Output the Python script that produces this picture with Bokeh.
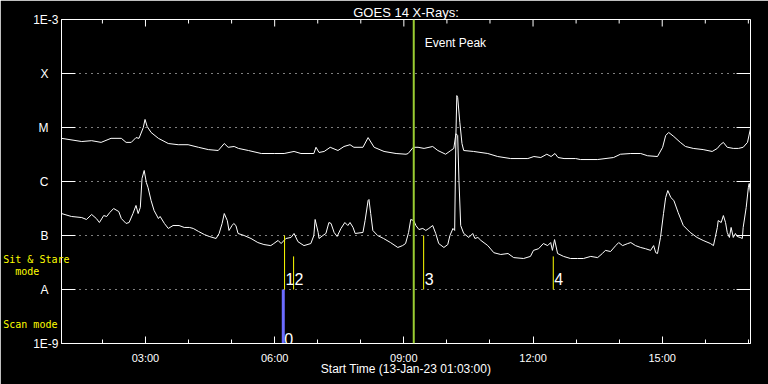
from bokeh.plotting import figure
from bokeh.models import Range1d, FixedTicker, LogAxis, Label, Span
from bokeh.embed import file_html
from bokeh.resources import INLINE

FONT = "Liberation Sans"
MONO = "DejaVu Sans Mono"

# ---- time axis (decimal hours UT, 13-Jan-2023) ----
x_start, x_end = 1.05, 17.05
major_hours = [3, 6, 9, 12, 15]
major_labels = ["03:00", "06:00", "09:00", "12:00", "15:00"]
minor_hours = [2, 3, 4, 5, 6, 7, 8, 9, 10, 11, 12, 13, 14, 15, 16, 17]

# ---- flux axis (W/m^2) ----
decades = [1e-9, 1e-8, 1e-7, 1e-6, 1e-5, 1e-4, 1e-3]
decade_labels = ["1E-9", "A", "B", "C", "M", "X", "1E-3"]
grid_levels = [1e-8, 1e-7, 1e-6, 1e-5, 1e-4]

# ---- observing-mode captions on the flux axis ----
mode_levels = [3.59e-8, 2.15e-8, 2.25e-9]
mode_labels = ["Sit & Stare", "mode", "Scan mode"]
mode_pad = [0, 5, 2]   # trailing no-break spaces

# ---- GOES 14 long channel (1-8 A) ----
long_t = [1.05, 1.52, 1.75, 1.97, 2.20, 2.44, 2.55, 2.67, 2.78, 2.85,
          2.95, 2.99, 3.04, 3.13, 3.30, 3.53, 3.76, 3.99, 4.23, 4.46,
          4.69, 4.83, 4.92, 5.06, 5.16, 5.39, 5.69, 5.99, 6.22, 6.45,
          6.61, 6.91, 6.96, 7.03, 7.15, 7.29, 7.47, 7.61, 7.75, 7.84,
          8.05, 8.17, 8.31, 8.54, 8.82, 9.05, 9.10, 9.22, 9.33, 9.47,
          9.67, 9.79, 9.97, 10.09, 10.16, 10.21, 10.23, 10.25, 10.30, 10.35,
          10.39, 10.62, 10.95, 11.18, 11.48, 11.88, 12.02, 12.18, 12.32, 12.42,
          12.51, 12.58, 12.72, 12.99, 13.10, 13.50, 13.87, 14.03, 14.27, 14.50,
          14.66, 14.89, 15.01, 15.08, 15.15, 15.27, 15.42, 15.54, 15.72, 15.95,
          16.16, 16.28, 16.35, 16.42, 16.51, 16.65, 16.77, 16.88, 16.98, 17.05]
long_f = [6.3e-6, 5.5e-6, 5.7e-6, 5.3e-6, 6.3e-6, 6.3e-6, 5.3e-6, 5.3e-6, 6.5e-6, 6.3e-6,
          1.0e-5, 1.41e-5, 1.04e-5, 8.1e-6, 6.3e-6, 5.05e-6, 4.8e-6, 4.8e-6, 4.3e-6, 3.9e-6,
          3.75e-6, 5.05e-6, 4.3e-6, 4.45e-6, 4.1e-6, 3.75e-6, 3.3e-6, 3.3e-6, 3.3e-6, 3.6e-6,
          3.3e-6, 3.3e-6, 4.3e-6, 3.45e-6, 3.6e-6, 4.3e-6, 3.75e-6, 4.45e-6, 4.8e-6, 4.3e-6,
          4.3e-6, 6.5e-6, 4.3e-6, 3.6e-6, 3.3e-6, 3.2e-6, 3.3e-6, 4.3e-6, 4.3e-6, 4.1e-6,
          4.45e-6, 3.75e-6, 3.2e-6, 3.75e-6, 4.1e-6, 7.7e-6, 3.9e-5, 3.6e-5, 1.24e-5, 5.05e-6,
          3.75e-6, 3.6e-6, 3.3e-6, 2.9e-6, 2.66e-6, 2.66e-6, 2.9e-6, 2.78e-6, 3.2e-6, 2.9e-6,
          3.3e-6, 2.78e-6, 2.66e-6, 2.66e-6, 2.55e-6, 2.55e-6, 2.78e-6, 3.2e-6, 3.3e-6, 3.3e-6,
          3.0e-6, 2.9e-6, 4.3e-6, 7.1e-6, 8.1e-6, 6.8e-6, 5.3e-6, 4.45e-6, 4.1e-6, 3.9e-6,
          3.6e-6, 4.1e-6, 4.8e-6, 5.3e-6, 4.3e-6, 4.1e-6, 4.1e-6, 4.3e-6, 5.3e-6, 9.6e-6]

# ---- GOES 14 short channel (0.5-4 A) ----
short_t = [1.05, 1.28, 1.52, 1.63, 1.75, 1.86, 1.93, 2.03, 2.10, 2.17,
           2.26, 2.38, 2.44, 2.55, 2.62, 2.71, 2.78, 2.83, 2.88, 2.92,
           2.97, 3.02, 3.06, 3.13, 3.20, 3.30, 3.34, 3.44, 3.53, 3.64,
           3.78, 3.90, 4.02, 4.11, 4.23, 4.37, 4.48, 4.64, 4.71, 4.78,
           4.83, 4.90, 4.94, 5.01, 5.05, 5.10, 5.15, 5.29, 5.45, 5.61,
           5.75, 5.91, 5.98, 6.08, 6.15, 6.26, 6.38, 6.45, 6.54, 6.68,
           6.84, 6.91, 6.94, 7.01, 7.03, 7.12, 7.19, 7.26, 7.31, 7.38,
           7.45, 7.54, 7.63, 7.70, 7.75, 7.82, 7.87, 8.05, 8.10, 8.17,
           8.19, 8.23, 8.28, 8.39, 8.53, 8.69, 8.86, 8.97, 9.04, 9.11,
           9.16, 9.23, 9.28, 9.35, 9.44, 9.51, 9.58, 9.67, 9.74, 9.81,
           9.93, 10.02, 10.07, 10.14, 10.18, 10.21, 10.25, 10.28, 10.32, 10.39,
           10.51, 10.60, 10.65, 10.72, 10.79, 10.95, 11.09, 11.25, 11.42, 11.55,
           11.78, 11.94, 12.01, 12.13, 12.24, 12.34, 12.41, 12.45, 12.50, 12.57,
           12.71, 12.87, 13.03, 13.17, 13.34, 13.50, 13.61, 13.68, 13.80, 13.92,
           13.99, 14.08, 14.20, 14.27, 14.38, 14.50, 14.61, 14.73, 14.80, 14.85,
           14.89, 14.96, 15.03, 15.08, 15.13, 15.20, 15.27, 15.37, 15.49, 15.65,
           15.81, 15.95, 16.12, 16.19, 16.23, 16.28, 16.30, 16.37, 16.42, 16.47,
           16.51, 16.56, 16.60, 16.65, 16.70, 16.74, 16.81, 16.86, 16.88, 16.95,
           17.00, 17.02, 17.05]
short_f = [2.55e-7, 2.25e-7, 2.15e-7, 1.98e-7, 2.45e-7, 2.06e-7, 1.74e-7, 2.34e-7, 2.25e-7, 2.66e-7,
           3.16e-7, 2.78e-7, 2.06e-7, 1.67e-7, 1.74e-7, 2.55e-7, 3.6e-7, 2.55e-7, 3.3e-7, 1.14e-6,
           1.6e-6, 9.6e-7, 7.7e-7, 4.45e-7, 2.9e-7, 2.06e-7, 2.25e-7, 1.67e-7, 1.35e-7, 1.53e-7,
           1.53e-7, 1.41e-7, 1.41e-7, 1.35e-7, 1.19e-7, 1.04e-7, 9.6e-8, 8.8e-8, 1.09e-7, 1.67e-7,
           2.55e-7, 1.89e-7, 1.24e-7, 1.53e-7, 1.67e-7, 1.53e-7, 1.09e-7, 1.0e-7, 8.8e-8, 7.4e-8,
           6.8e-8, 6.5e-8, 7.1e-8, 8.1e-8, 7.1e-8, 8.8e-8, 9.2e-8, 1.09e-7, 7.7e-8, 6.5e-8,
           7.1e-8, 1.0e-7, 1.98e-7, 1.14e-7, 8.8e-8, 1.0e-7, 1.09e-7, 1.74e-7, 1.67e-7, 1.14e-7,
           9.6e-8, 1.35e-7, 1.74e-7, 1.53e-7, 1.74e-7, 1.41e-7, 1.09e-7, 1.14e-7, 1.89e-7, 4.45e-7,
           4.64e-7, 2.55e-7, 1.24e-7, 1.0e-7, 8.8e-8, 7.4e-8, 6.0e-8, 6.5e-8, 7.1e-8, 1.14e-7,
           1.98e-7, 1.89e-7, 1.53e-7, 1.29e-7, 1.35e-7, 1.24e-7, 1.35e-7, 1.53e-7, 1.09e-7, 7.1e-8,
           6.0e-8, 6.8e-8, 1.0e-7, 1.35e-7, 1.24e-7, 7.7e-6, 7.1e-6, 1.04e-6, 1.53e-7, 1.09e-7,
           9.2e-8, 1.09e-7, 8.8e-8, 9.2e-8, 8.1e-8, 6.5e-8, 4.8e-8, 4.45e-8, 4.64e-8, 3.9e-8,
           3.75e-8, 4.1e-8, 5.3e-8, 5.7e-8, 7.1e-8, 6.5e-8, 7.4e-8, 5.3e-8, 8.4e-8, 4.64e-8,
           4.1e-8, 3.75e-8, 3.75e-8, 3.75e-8, 4.1e-8, 3.9e-8, 4.64e-8, 5.3e-8, 5.05e-8, 6.5e-8,
           7.4e-8, 6.5e-8, 7.1e-8, 7.4e-8, 6.5e-8, 6.0e-8, 5.7e-8, 5.3e-8, 6.5e-8, 4.8e-8,
           4.64e-8, 9.2e-8, 2.55e-7, 5.05e-7, 6.8e-7, 5.05e-7, 4.45e-7, 2.66e-7, 1.53e-7, 1.14e-7,
           9.2e-8, 8.1e-8, 7.1e-8, 6.5e-8, 9.2e-8, 1.41e-7, 1.89e-7, 1.74e-7, 2.34e-7, 1.74e-7,
           1.14e-7, 9.2e-8, 1.41e-7, 9.2e-8, 1.09e-7, 9.6e-8, 9.2e-8, 8.8e-8, 1.41e-7, 3.3e-7,
           7.7e-7, 9.2e-7, 6.0e-7]

# ---- event peak and observation markers ----
event_peak_t = 9.23
obs_ids = ["0", "1", "2", "3", "4"]
obs_t = [6.20, 6.23, 6.44, 9.46, 12.47]
obs_bottom = [1e-9, 1e-8, 1e-8, 1e-8, 1e-8]
obs_top = [1e-8, 1e-7, 4.1e-8, 1e-7, 4.1e-8]
obs_color = ["#6b6bff", "#ffff00", "#ffff00", "#ffff00", "#ffff00"]
obs_width = [3, 1, 1, 1, 1]

# ---- layout (pixels) ----
W, H = 768, 384
BL, BR, BT, BB = 60, 18, 19, 41
frame_w, frame_h = W - BL - BR, H - BT - BB
px_per_hour = frame_w / (x_end - x_start)
px_per_decade = frame_h / (len(decades) - 1)
NBSP = "\u00a0"

p = figure(width=W, height=H, output_backend="svg", toolbar_location=None,
           x_range=Range1d(x_start, x_end), y_range=Range1d(decades[0], decades[-1]),
           y_axis_type="log",
           min_border_left=BL, min_border_right=BR, min_border_top=BT, min_border_bottom=BB,
           background_fill_color="black", border_fill_color="black",
           outline_line_color="white", outline_line_width=1)

p.title.text = "GOES 14 X-Rays:"
p.title.align = "center"
p.title.text_color = "white"
p.title.text_font = FONT
p.title.text_font_size = "13px"
p.title.text_font_style = "normal"
p.title.standoff = 0
p.title.offset = 0

# bottom axis
xa = p.xaxis[0]
xa.ticker = FixedTicker(ticks=major_hours, minor_ticks=minor_hours)
xa.major_label_overrides = {h: s for h, s in zip(major_hours, major_labels)}
xa.major_tick_in = 7
xa.major_tick_out = 0
xa.minor_tick_in = 4
xa.minor_tick_out = 0
xa.major_label_text_font_size = "11px"
xa.major_label_standoff = 8
xa.axis_label = "Start Time (13-Jan-23 01:03:00)"
xa.axis_label_text_font = FONT
xa.axis_label_text_font_size = "12px"
xa.axis_label_text_font_style = "normal"
xa.axis_label_text_color = "white"
xa.axis_label_standoff = -5

# left axis
ya = p.yaxis[0]
ya.ticker = FixedTicker(ticks=decades, minor_ticks=[])
ya.major_label_overrides = {d: (s if s.startswith("1E") else s + NBSP * 3)
                            for d, s in zip(decades, decade_labels)}
ya.major_tick_in = 14
ya.major_tick_out = 0
ya.minor_tick_in = 0
ya.minor_tick_out = 0
ya.major_label_text_font_size = "12px"
ya.major_label_standoff = 3

for ax in [xa, ya]:
    ax.axis_line_color = "white"
    ax.major_tick_line_color = "white"
    ax.minor_tick_line_color = "white"
    ax.major_label_text_color = "white"
    ax.major_label_text_font = FONT

# yellow observing-mode captions, drawn as a second (tickless) flux axis
mode_axis = LogAxis(ticker=FixedTicker(ticks=mode_levels, minor_ticks=[]),
                    major_label_overrides={lv: s + NBSP * n for lv, s, n
                                           in zip(mode_levels, mode_labels, mode_pad)},
                    axis_line_color=None, major_tick_line_color=None,
                    minor_tick_line_color=None,
                    major_tick_in=0, major_tick_out=0, minor_tick_in=0, minor_tick_out=0,
                    major_label_standoff=-39,
                    major_label_text_color="#ffff00", major_label_text_font=MONO,
                    major_label_text_font_size="10px")
p.add_layout(mode_axis, "left")

p.xgrid.visible = False
p.ygrid.ticker = FixedTicker(ticks=grid_levels, minor_ticks=[])
p.ygrid.grid_line_color = "white"
p.ygrid.grid_line_dash = "1 5"
p.ygrid.grid_line_width = 1

# mirrored ticks on the top and right frame edges
top_len = [7 if h in major_hours else 4 for h in minor_hours]
p.segment(x0=minor_hours, y0=[decades[-1]] * len(minor_hours),
          x1=minor_hours, y1=[decades[-1] / 10 ** (L / px_per_decade) for L in top_len],
          line_color="white", line_width=1)
p.segment(x0=[x_end - 14 / px_per_hour] * len(decades), y0=decades,
          x1=[x_end] * len(decades), y1=decades, line_color="white", line_width=1)

# curves
p.line(long_t, long_f, line_color="white", line_width=1)
p.line(short_t, short_f, line_color="white", line_width=1)

# observation markers
p.segment(x0=obs_t, y0=obs_bottom, x1=obs_t, y1=obs_top,
          line_color=obs_color, line_width=obs_width)
p.add_layout(Span(location=event_peak_t, dimension="height",
                  line_color="#9acd32", line_width=2))

for oid, t, b in zip(obs_ids, obs_t, obs_bottom):
    p.add_layout(Label(x=t, y=b, text=oid, x_offset=1,
                       y_offset=5 if oid == "0" else 11,
                       text_baseline="alphabetic", text_align="left",
                       text_color="white", text_font=FONT, text_font_size="16px"))

p.add_layout(Label(x=event_peak_t, y=decades[-1], text="Event Peak",
                   x_offset=11, y_offset=-23.5, text_baseline="middle",
                   text_color="white", text_font=FONT, text_font_size="12px"))

open("out.html", "w").write(file_html(p, INLINE))
